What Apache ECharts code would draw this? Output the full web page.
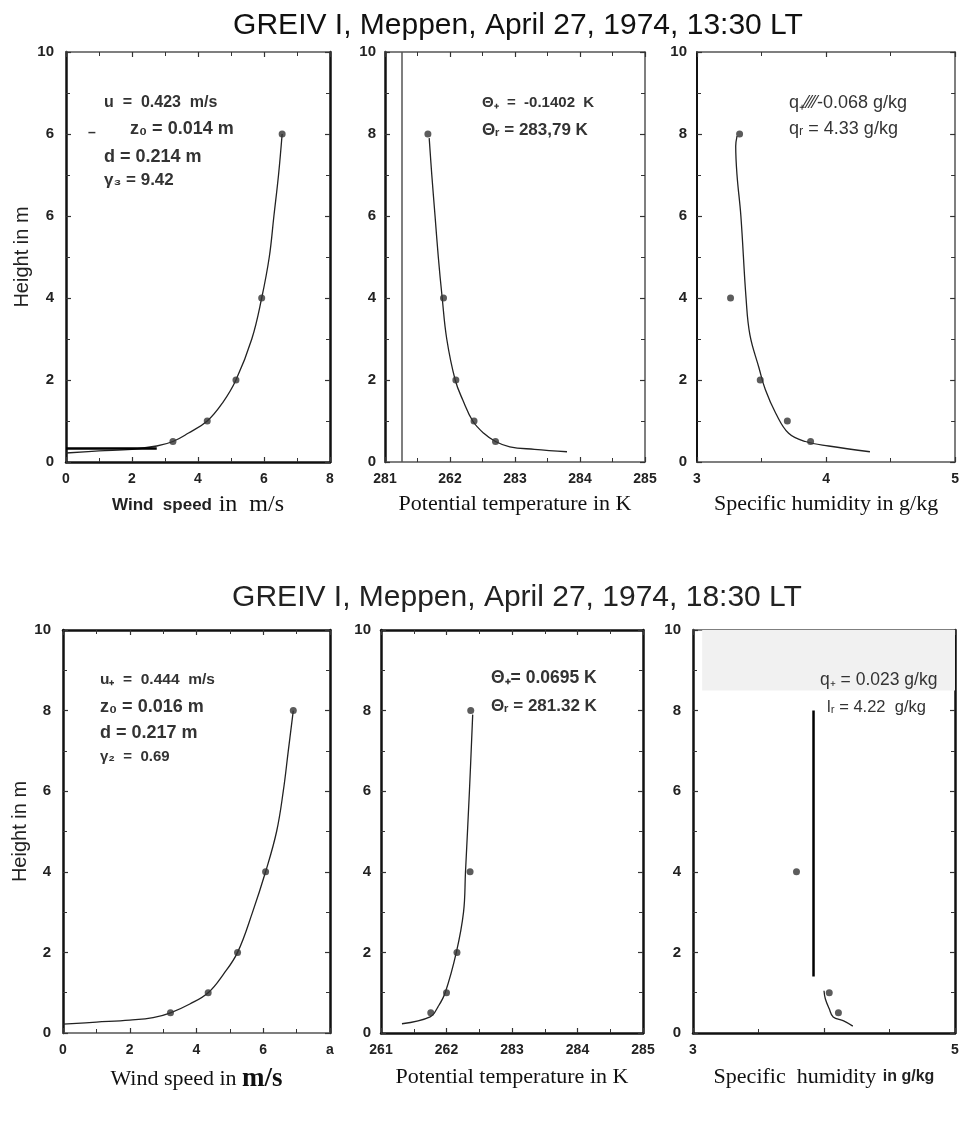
<!DOCTYPE html>
<html><head><meta charset="utf-8">
<script src="https://cdn.jsdelivr.net/npm/echarts@6/dist/echarts.min.js"></script>
<style>html,body{margin:0;padding:0;background:#fff}#c{width:962px;height:1126px}</style>
</head><body><div id="c"></div>
<script>
// ---------- data ----------
const heightsObs = [0.5, 1, 2, 4, 8];

// 13:30 LT
const wind1330Obs = [3.24, 4.28, 5.15, 5.93, 6.55];
const wind1330FitX = [0, 1, 2, 2.75, 3.24, 3.7, 4.28, 4.75, 5.15, 5.63, 5.93, 6.16, 6.3, 6.44, 6.55];
const wind1330FitY = [0.22, 0.27, 0.31, 0.39, 0.5, 0.7, 1, 1.45, 2, 3, 4, 5, 6, 7, 8];
const wind1330MarkX = [0, 2.75];
const wind1330MarkY = [0.33, 0.33];

const theta1330Obs = [282.70, 282.37, 282.09, 281.90, 281.66];
const theta1330FitX = [283.8, 283.3, 282.92, 282.70, 282.52, 282.35, 282.2, 282.08, 281.95, 281.88, 281.82, 281.77, 281.72, 281.68];
const theta1330FitY = [0.25, 0.31, 0.37, 0.5, 0.7, 1, 1.5, 2, 3, 4, 5, 6, 7, 7.9];

const hum1330Obs = [3.88, 3.70, 3.49, 3.26, 3.33];
const hum1330FitX = [4.34, 4.02, 3.84, 3.71, 3.61, 3.53, 3.48, 3.41, 3.38, 3.34, 3.31, 3.30, 3.31];
const hum1330FitY = [0.25, 0.39, 0.5, 0.7, 1.19, 1.76, 2.3, 3.1, 4, 6, 7, 7.7, 7.95];

// 18:30 LT
const wind1830Obs = [3.22, 4.35, 5.23, 6.07, 6.9];
const wind1830FitX = [0, 1, 2, 2.7, 3.22, 3.8, 4.35, 4.8, 5.23, 5.68, 6.07, 6.40, 6.60, 6.75, 6.9];
const wind1830FitY = [0.22, 0.27, 0.32, 0.38, 0.5, 0.72, 1, 1.45, 2, 3, 4, 5, 6, 7, 8];

const theta1830Obs = [261.76, 262.0, 262.16, 262.36, 262.37];
const theta1830FitX = [261.32, 261.75, 261.87, 261.98, 262.15, 262.26, 262.29, 262.35, 262.40];
const theta1830FitY = [0.23, 0.4, 0.65, 1, 2, 3, 4, 6, 7.9];

const hum1830ObsH = [0.5, 1, 4];
const hum1830Obs = [4.11, 4.04, 3.79];
const hum1830FitX = [4.0, 4.01, 4.04, 4.07, 4.15, 4.22];
const hum1830FitY = [1.05, 0.85, 0.6, 0.4, 0.3, 0.17];
const hum1830BarX = [3.92, 3.92];
const hum1830BarY = [1.4, 8];

// tick labels (as printed)
const yTicks = [0, 2, 4, 6, 8, 10];
const yLabelsWind1330 = ['0', '2', '4', '6', '6', '10'];
const yLabelsStd = ['0', '2', '4', '6', '8', '10'];
const xLabelsWind1330 = ['0', '2', '4', '6', '8'];
const xLabelsTheta1330 = ['281', '262', '283', '284', '285'];
const xLabelsHum1330 = ['3', '4', '5'];
const xLabelsWind1830 = ['0', '2', '4', '6', 'a'];
const xLabelsTheta1830 = ['261', '262', '283', '284', '285'];
const xLabelsHum1830 = ['3', '', '5'];

const titles = ['GREIV I, Meppen, April 27, 1974, 13:30 LT', 'GREIV I, Meppen, April 27, 1974, 18:30 LT'];
const yName = 'Height in m';

// ---------- build ----------
const zip = (xs, ys) => xs.map((x, i) => [x, ys[i]]);
const grids = [], xAxes = [], yAxes = [], series = [];
const K = '#111', G = '#555';
const nameRich = {
  s: {fontFamily: 'Liberation Sans', fontWeight: 'bold', fontSize: 17, color: '#222'},
  t: {fontFamily: 'Liberation Serif', fontSize: 22, color: '#111'},
  tw: {fontFamily: 'Liberation Serif', fontSize: 24, color: '#111'},
  tb: {fontFamily: 'Liberation Serif', fontWeight: 'bold', fontSize: 27, color: '#111'},
  sb: {fontFamily: 'Liberation Sans', fontWeight: 'bold', fontSize: 16, color: '#222'}
};
function axisCommon(color, width) {
  return {
    axisLine: {show: true, onZero: false, lineStyle: {color: color, width: width}},
    axisTick: {show: true, inside: true, length: 5, lineStyle: {color: '#333', width: 1.2}},
    minorTick: {show: true, splitNumber: 2, length: 4, lineStyle: {color: '#333', width: 1}},
    splitLine: {show: false}, minorSplitLine: {show: false}
  };
}
function panel(c) {
  const gi = grids.length;
  grids.push({left: c.left, top: c.top, width: c.w, height: c.h});
  xAxes.push(Object.assign({
    gridIndex: gi, type: 'value', position: 'bottom', min: c.xmin, max: c.xmax, interval: c.xint,
    axisLabel: {margin: 10, fontFamily: 'Liberation Sans', fontWeight: 'bold', fontSize: 14, color: '#222',
      formatter: v => { const k = Math.round((v - c.xmin) / c.xint); return c.xlabels[k] !== undefined ? c.xlabels[k] : ''; }},
    name: c.xname, nameLocation: 'middle', nameGap: c.xgap, nameTextStyle: {rich: nameRich}
  }, axisCommon(c.bc[0], c.bw[0])));
  xAxes.push(Object.assign({
    gridIndex: gi, type: 'value', position: 'top', min: c.xmin, max: c.xmax, interval: c.xint, axisLabel: {show: false}
  }, axisCommon(c.bc[1], c.bw[1])));
  yAxes.push(Object.assign({
    gridIndex: gi, type: 'value', position: 'left', min: 0, max: 10, interval: 2,
    axisLabel: {margin: c.ymargin, fontFamily: 'Liberation Sans', fontWeight: 'bold', fontSize: 15, color: '#222',
      formatter: v => c.ylabels[yTicks.indexOf(v)]},
    name: c.yname || '', nameLocation: 'middle', nameGap: c.ygap || 34, nameRotate: 90,
    nameTextStyle: {fontFamily: 'Liberation Sans', fontSize: 20, color: '#222'}
  }, axisCommon(c.bc[2], c.bw[2])));
  yAxes.push(Object.assign({
    gridIndex: gi, type: 'value', position: 'right', min: 0, max: 10, interval: 2, axisLabel: {show: false}
  }, axisCommon(c.bc[3], c.bw[3])));
  const xi = 2 * gi, yi = 2 * gi;
  c.lines.forEach(l => series.push({
    type: 'line', xAxisIndex: xi, yAxisIndex: yi, data: l.data, symbol: 'none',
    smooth: l.smooth === undefined ? 0.4 : l.smooth,
    lineStyle: {color: l.color || '#222', width: l.width || 1.3}, z: 3, silent: true,
    markLine: l.markLine, markArea: l.markArea
  }));
  series.push({type: 'scatter', xAxisIndex: xi, yAxisIndex: yi, data: c.points, symbolSize: 7,
    itemStyle: {color: '#333'}, z: 4, silent: true});
}

// top row
panel({left: 66, top: 52, w: 264, h: 410, xmin: 0, xmax: 8, xint: 2, xlabels: xLabelsWind1330, ylabels: yLabelsWind1330,
  ymargin: 12, yname: yName, ygap: 34, xgap: 31, xname: '{s|Wind  speed}  {tw|in  m/s}',
  bc: [K, G, K, K], bw: [2.5, 1.5, 2.5, 2.5],
  lines: [{data: zip(wind1330FitX, wind1330FitY)}, {data: zip(wind1330MarkX, wind1330MarkY), color: '#000', width: 2.5, smooth: false}],
  points: zip(wind1330Obs, heightsObs)});
panel({left: 385, top: 52, w: 260, h: 410, xmin: 281, xmax: 285, xint: 1, xlabels: xLabelsTheta1330, ylabels: yLabelsStd,
  ymargin: 9, xgap: 31, xname: '{t|Potential temperature in K}',
  bc: [G, G, K, G], bw: [1.5, 1.5, 2.5, 1.5],
  lines: [{data: zip(theta1330FitX, theta1330FitY),
    markLine: {silent: true, symbol: 'none', label: {show: false}, lineStyle: {color: G, width: 1.5, type: 'solid'}, data: [{xAxis: 281.26}]}}],
  points: zip(theta1330Obs, heightsObs)});
panel({left: 697, top: 52, w: 259, h: 410, xmin: 3, xmax: 5, xint: 1, xlabels: xLabelsHum1330, ylabels: yLabelsStd,
  ymargin: 10, xgap: 31, xname: '{t|Specific humidity in g/kg}',
  bc: [G, G, K, G], bw: [1.5, 1.5, 2, 1.5],
  lines: [{data: zip(hum1330FitX, hum1330FitY)}],
  points: zip(hum1330Obs, heightsObs)});

// bottom row
panel({left: 63, top: 630, w: 267, h: 403, xmin: 0, xmax: 8, xint: 2, xlabels: xLabelsWind1830, ylabels: yLabelsStd,
  ymargin: 12, yname: yName, ygap: 33, xgap: 33, xname: '{t|Wind speed in }{tb|m/s}',
  bc: [G, K, K, K], bw: [1.5, 2.5, 2.5, 2.5],
  lines: [{data: zip(wind1830FitX, wind1830FitY)}],
  points: zip(wind1830Obs, heightsObs)});
panel({left: 381, top: 630, w: 262, h: 403, xmin: 261, xmax: 265, xint: 1, xlabels: xLabelsTheta1830, ylabels: yLabelsStd,
  ymargin: 10, xgap: 33, xname: '{t|Potential temperature in K}',
  bc: [K, K, K, K], bw: [2.5, 2.5, 2.5, 2.5],
  lines: [{data: zip(theta1830FitX, theta1830FitY)}],
  points: zip(theta1830Obs, heightsObs)});
panel({left: 693, top: 630, w: 262, h: 403, xmin: 3, xmax: 5, xint: 1, xlabels: xLabelsHum1830, ylabels: yLabelsStd,
  ymargin: 12, xgap: 33, xname: '{t|Specific  humidity}  {sb|in g/kg}',
  bc: [K, G, K, K], bw: [2.5, 1.5, 2.5, 2.5],
  lines: [{data: zip(hum1830FitX, hum1830FitY),
      markArea: {silent: true, itemStyle: {color: '#f1f1f1'}, data: [[{coord: [3.07, 8.5]}, {coord: [5, 10]}]]}},
    {data: zip(hum1830BarX, hum1830BarY), color: '#000', width: 2.5, smooth: false}],
  points: zip(hum1830Obs, hum1830ObsH)});

// ---------- texts ----------
const T = (x, y, text, size, extra) => ({type: 'text', x: x, y: y, z: 100, silent: true,
  style: Object.assign({text: text, fontSize: size, fontFamily: 'Liberation Sans', fontWeight: 'bold', fill: '#333',
    align: 'left', verticalAlign: 'middle'}, extra || {})});
const graphics = [
  T(518, 26, titles[0], 30, {align: 'center', fontWeight: 'normal', fill: '#111'}),
  T(517, 598, titles[1], 30, {align: 'center', fontWeight: 'normal', fill: '#222'}),
  T(104, 103, 'u  =  0.423  m/s', 16),
  T(88, 133, '–', 14),
  T(130, 129, 'z₀ = 0.014 m', 18),
  T(104, 157, 'd = 0.214 m', 18),
  T(104, 180, 'γ₃ = 9.42', 17),
  T(482, 103, 'Θ₊  =  -0.1402  K', 15),
  T(482, 130, 'Θᵣ = 283,79 K', 17),
  T(789, 103, 'q₊⁄⁄⁄⁄-0.068 g/kg', 18, {fontWeight: 'normal'}),
  T(789, 129, 'qᵣ = 4.33 g/kg', 18, {fontWeight: 'normal'}),
  T(100, 680, 'u₊  =  0.444  m/s', 15.5),
  T(100, 707, 'z₀ = 0.016 m', 18),
  T(100, 733, 'd = 0.217 m', 18),
  T(100, 757, 'γ₂  =  0.69', 15),
  T(491, 678, 'Θ₊= 0.0695 K', 17.5),
  T(491, 706, 'Θᵣ = 281.32 K', 17),
  T(820, 680, 'q₊ = 0.023 g/kg', 17.5, {fontWeight: 'normal'}),
  T(827, 707, 'lᵣ = 4.22  g/kg', 16.5, {fontWeight: 'normal'})
];

const chart = echarts.init(document.getElementById('c'), null, {renderer: 'canvas'});
chart.setOption({
  backgroundColor: '#fff', animation: false,
  grid: grids, xAxis: xAxes, yAxis: yAxes, series: series, graphic: graphics
});
</script></body></html>
